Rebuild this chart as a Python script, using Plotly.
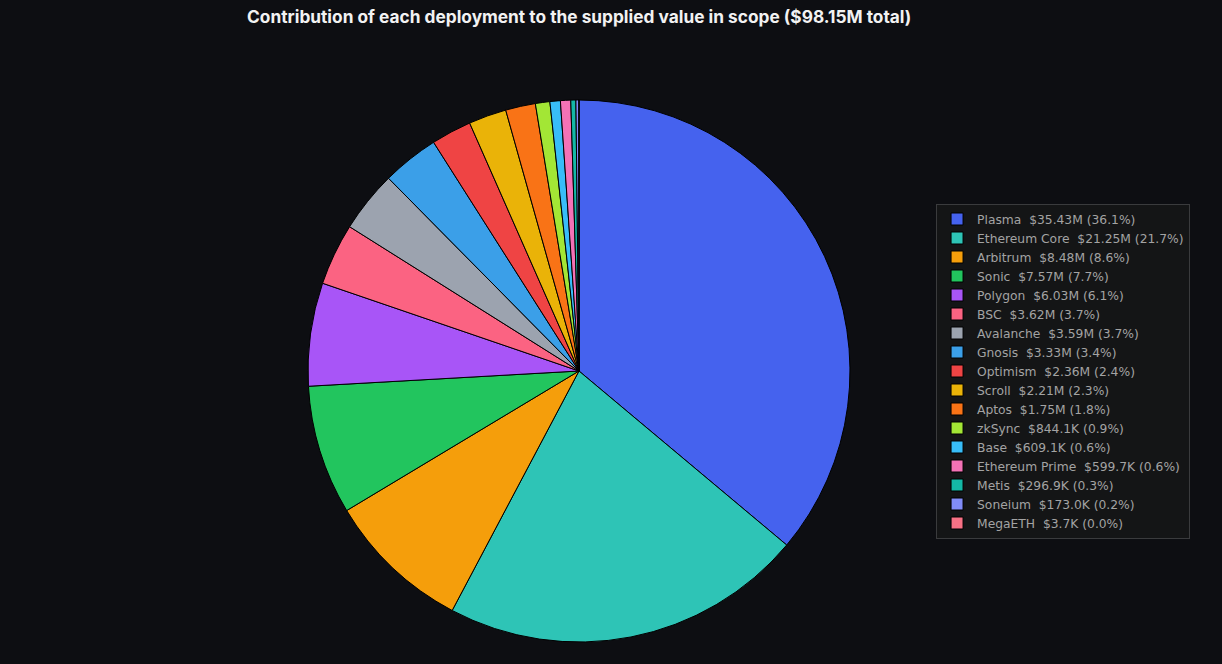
import plotly.graph_objects as go

names = ["Plasma", "Ethereum Core", "Arbitrum", "Sonic", "Polygon", "BSC", "Avalanche",
         "Gnosis", "Optimism", "Scroll", "Aptos", "zkSync", "Base", "Ethereum Prime",
         "Metis", "Soneium", "MegaETH"]
values_usd = [35.43e6, 21.25e6, 8.48e6, 7.57e6, 6.03e6, 3.62e6, 3.59e6, 3.33e6, 2.36e6,
              2.21e6, 1.75e6, 844.1e3, 609.1e3, 599.7e3, 296.9e3, 173.0e3, 3.7e3]
value_text = ["$35.43M", "$21.25M", "$8.48M", "$7.57M", "$6.03M", "$3.62M", "$3.59M",
              "$3.33M", "$2.36M", "$2.21M", "$1.75M", "$844.1K", "$609.1K", "$599.7K",
              "$296.9K", "$173.0K", "$3.7K"]
pct_text = ["36.1%", "21.7%", "8.6%", "7.7%", "6.1%", "3.7%", "3.7%", "3.4%", "2.4%",
            "2.3%", "1.8%", "0.9%", "0.6%", "0.6%", "0.3%", "0.2%", "0.0%"]
colors = ["#4562ee", "#2ec4b6", "#f59e0b", "#22c55e", "#a855f7", "#fb6382", "#9ca3af",
          "#3b9fe8", "#ef4444", "#eab308", "#f97316", "#a3e635", "#38bdf8", "#f472b6",
          "#14b8a6", "#818cf8", "#f87185"]

labels = [f"{n}&nbsp;&nbsp;{v} ({p})" for n, v, p in zip(names, value_text, pct_text)]

fig = go.Figure(go.Pie(
    labels=labels,
    values=values_usd,
    sort=False,
    direction="clockwise",
    rotation=0,
    textinfo="none",
    marker=dict(colors=colors, line=dict(color="#000000", width=1)),
    domain=dict(x=[0.0, 0.9476], y=[0, 1]),
))

fig.update_layout(
    width=1222, height=664,
    paper_bgcolor="#0d0e12", plot_bgcolor="#0d0e12",
    margin=dict(l=0, r=0, t=100, b=22),
    title=dict(text="<b>Contribution of each deployment to the supplied value in scope ($98.15M total)</b>",
               x=0.474, xanchor="center", y=0.983, yanchor="top",
               font=dict(family="Inter", size=17.3, color="#f2f2f2")),
    legend=dict(x=0.766, xanchor="left", y=0.5, yanchor="middle",
                bgcolor="#141516", bordercolor="#3a3b3d", borderwidth=1,
                font=dict(family="DejaVu Sans", size=12.3, color="#a3a3a3"),
                tracegroupgap=0),
    showlegend=True,
)

fig.write_html("out.html")
